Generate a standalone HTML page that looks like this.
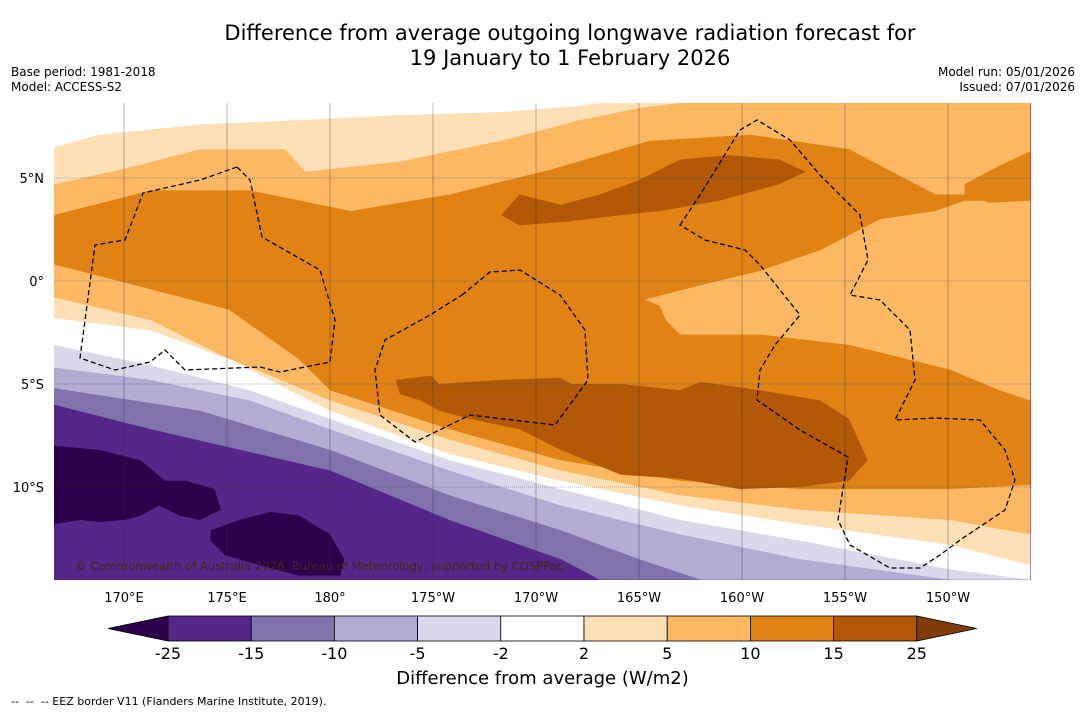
<!DOCTYPE html>
<html><head><meta charset="utf-8">
<style>
body{margin:0;background:#fff;font-family:"DejaVu Sans","Liberation Sans",sans-serif;}
#wrap{position:relative;width:1085px;height:713px;overflow:hidden;background:#fff;}
.t{position:absolute;color:#000;white-space:nowrap;}
</style></head>
<body>
<div id="wrap">
<div class="t" style="left:170px;width:800px;top:21px;text-align:center;font-size:21px;line-height:25px;">Difference from average outgoing longwave radiation forecast for<br>19 January to 1 February 2026</div>
<div class="t" style="left:11px;top:65px;font-size:12px;line-height:15px;">Base period: 1981-2018<br>Model: ACCESS-S2</div>
<div class="t" style="right:10px;top:65px;font-size:12px;line-height:15px;text-align:right;">Model run: 05/01/2026<br>Issued: 07/01/2026</div>
<div class="t" style="left:300px;width:485px;top:668px;text-align:center;font-size:18px;">Difference from average (W/m2)</div>
<div class="t" style="left:11px;top:695px;font-size:11px;">-- &nbsp;-- &nbsp;-- EEZ border V11 (Flanders Marine Institute, 2019).</div>
<svg id="svg" width="1085" height="713" style="position:absolute;left:0;top:0"></svg>
</div>
<script>
// ---- data ----
const levelTicks = ["-25","-15","-10","-5","-2","2","5","10","15","25"];
const levelColors = ["#542788","#8073ac","#b2abd2","#d8daeb","#ffffff","#fee0b6","#fdb863","#e08214","#b35806"];
const lonTicks = [170,175,180,185,190,195,200,205,210];
const lonLabels = ["170°E","175°E","180°","175°W","170°W","165°W","160°W","155°W","150°W"];
const latTicks = [5,0,-5,-10];
const latLabels = ["5°N","0°","5°S","10°S"];
// bottom-side contour boundaries (lon, lat), region above painted
const bnd8073ac = [[166.6,-6.0],[171.3,-7.2],[180,-9.2],[185.8,-11.6],[189.2,-12.8],[191.2,-13.5],[193.1,-14.5]];
const bndB2abd2 = [[166.6,-5.2],[173.7,-6.3],[180,-8.2],[185.8,-10.4],[191.2,-12.1],[195,-13.5],[198,-14.5]];
const bndD8daeb = [[166.6,-4.2],[171.3,-4.8],[176.1,-5.8],[180,-7.2],[185.8,-9.2],[191.2,-10.9],[197,-12.3],[202.8,-13.5],[210.1,-14.5]];
const bndWhite = [[166.6,-3.1],[171.3,-4.1],[176.1,-5.3],[180,-6.7],[185.8,-8.7],[191.2,-10.1],[197,-11.6],[202.8,-12.6],[210.1,-14.0],[214,-14.5]];
const bndFee0b6 = [[166.6,-1.8],[171.3,-2.4],[175.1,-3.8],[180,-6.3],[185.8,-8.4],[191.2,-9.7],[197,-10.9],[202.8,-11.8],[210.1,-12.8],[214,-13.8]];
const bndFdb863 = [[166.6,-0.8],[171.3,-1.9],[174.7,-3.6],[180,-5.8],[185.8,-7.7],[191.2,-9.2],[197,-10.4],[202.8,-11.1],[210.1,-11.6],[214,-12.3]];
const bndE08214 = [[166.6,0.8],[171.3,-0.4],[175.1,-1.4],[178.5,-3.8],[180,-5.3],[185.8,-7.2],[191.2,-8.7],[197,-9.7],[202.8,-10.1],[210.1,-10.1],[214,-9.9]];
// top-side boundaries, region above painted
const topFdb863 = [[166.6,3.2],[171.3,4.4],[176.1,4.4],[181,3.4],[185.8,4.2],[190.7,5.4],[195.5,6.8],[200.4,7.1],[205.2,6.4],[209.4,4.2],[210.8,4.2],[214,3.9]];
const topFee0b6 = [[166.6,4.7],[169.8,5.4],[173.7,6.4],[177.8,6.4],[178.8,5.3],[183.4,5.8],[188.3,6.8],[192.1,7.8],[195,8.4],[197,8.64]];
const topWhite = [[166.6,6.5],[168.8,7.1],[173.7,7.6],[178.5,7.8],[183.4,8.06],[188.3,8.2],[192.1,8.5],[193.1,8.64]];
// patches
const patchLightRight = [[195.3,-0.9],[198,-0.2],[200.9,0.5],[203.8,1.5],[206.7,3.0],[209.4,3.4],[210.8,3.9],[214,3.9],[214,-5.8],[212.5,-5.3],[210.1,-4.3],[205.2,-3.1],[200.9,-2.6],[197,-2.6],[196.3,-1.9],[196,-1.2]];
const patchOrangeTopRight = [[210.8,4.7],[212.5,5.6],[214,6.3],[214,3.9],[212,3.8],[210.8,4.2]];
const patchDarkTop = [[188.3,3.2],[189.2,4.2],[191.2,3.7],[193.1,4.2],[195,4.9],[197,5.9],[199.4,6.1],[201.8,5.9],[203.1,5.3],[201.8,4.7],[198.9,3.9],[196,3.4],[194.1,3.2],[191.7,2.9],[189.2,2.7]];
const patchDarkBottom = [[183.2,-4.8],[184.9,-4.6],[185.3,-5.0],[188.3,-4.8],[191.2,-4.7],[191.7,-5.0],[194.1,-5.0],[197,-5.3],[198,-4.9],[200.9,-5.3],[203.8,-5.8],[205.2,-6.7],[206.1,-8.7],[205.2,-9.7],[202.8,-10.0],[199.9,-10.1],[197,-9.6],[194.1,-9.4],[191.2,-8.2],[189.2,-7.2],[186.8,-6.7],[185.3,-6.3],[184.4,-5.8],[183.4,-5.5]];
const patchPurple1 = [[166.6,-8.0],[168.8,-8.2],[170.8,-8.7],[172,-9.7],[173,-9.7],[174.4,-10.1],[174.7,-11.1],[173.7,-11.6],[172.7,-11.4],[171.7,-10.9],[170.8,-11.4],[170,-11.6],[168.8,-11.7],[167.9,-11.6],[166.6,-11.8]];
const patchPurple2 = [[174.2,-12.1],[175.6,-11.6],[177.1,-11.2],[178.5,-11.4],[180,-12.3],[180.7,-13.5],[180.5,-14.3],[178.5,-14.3],[176.6,-13.8],[174.9,-13.3],[174.2,-12.6]];

// ---- axes ----
const MX0=54,MX1=1031,MY0=103,MY1=580;
const LON0=166.6,LON1=214,LAT0=8.64,LAT1=-14.5;
const xs = lon => 124 + (lon-170)*20.6;
const ys = lat => 281 - lat*20.6;
const FONT='DejaVu Sans, Liberation Sans, sans-serif';
const svg=document.getElementById('svg');
const NS="http://www.w3.org/2000/svg";
function mk(tag,attrs){const e=document.createElementNS(NS,tag);for(const k in attrs)e.setAttribute(k,attrs[k]);return e;}
function pts(a){return a.map(p=>xs(p[0]).toFixed(1)+","+ys(p[1]).toFixed(1)).join(" ");}

const clip=mk('clipPath',{id:'mc'});clip.appendChild(mk('rect',{x:MX0,y:MY0,width:MX1-MX0,height:MY1-MY0}));
const defs=mk('defs',{});defs.appendChild(clip);svg.appendChild(defs);
const g=mk('g',{'clip-path':'url(#mc)'});


svg.appendChild(g);

const base=mk('rect',{x:MX0,y:MY0,width:MX1-MX0,height:MY1-MY0,fill:'#542788'});


g.appendChild(base);

function above(arr,color,name,closeTopOnly){
  const extra = closeTopOnly ? [[LON0,LAT0]] : [[LON1,LAT1],[LON1,LAT0],[LON0,LAT0]];
  const e=mk('polygon',{points:pts(arr.concat(extra)),fill:color});
  
  
  g.appendChild(e);
}
function patch(arr,color,name){
  const e=mk('polygon',{points:pts(arr),fill:color});
  
  
  g.appendChild(e);
}
above(bnd8073ac,'#8073ac','contour-minus15-minus10');
above(bndB2abd2,'#b2abd2','contour-minus10-minus5');
above(bndD8daeb,'#d8daeb','contour-minus5-minus2');
above(bndWhite,'#ffffff','contour-minus2-2');
above(bndFee0b6,'#fee0b6','contour-2-5');
above(bndFdb863,'#fdb863','contour-5-10');
above(bndE08214,'#e08214','contour-10-15');
above(topFdb863,'#fdb863','contour-top-5-10');
above(topFee0b6,'#fee0b6','contour-top-2-5',true);
above(topWhite,'#ffffff','contour-top-neutral',true);
patch(patchLightRight,'#fdb863','contour-east-5-10');
patch(patchOrangeTopRight,'#e08214','contour-northeast-10-15');
patch(patchDarkTop,'#b35806','contour-north-15-25');
patch(patchDarkBottom,'#b35806','contour-south-15-25');
patch(patchPurple1,'#2d004b','contour-sw-lt-minus25');
patch(patchPurple2,'#2d004b','contour-s-lt-minus25');

// grid
lonTicks.forEach((lon,i)=>{
  const l=mk('line',{x1:xs(lon),x2:xs(lon),y1:MY0,y2:MY1,stroke:'#333','stroke-width':0.5,'stroke-opacity':0.7});
  
  
  g.appendChild(l);
  const t=mk('text',{x:xs(lon),y:602,'text-anchor':'middle','font-size':13,fill:'#000','font-family':FONT});
  t.textContent=lonLabels[i];
  
  
  svg.appendChild(t);
});
latTicks.forEach((lat,i)=>{
  const l=mk('line',{x1:MX0,x2:MX1,y1:ys(lat),y2:ys(lat),stroke:'#333','stroke-width':0.6,'stroke-opacity':0.7,'stroke-dasharray':'1,1'});
  
  
  g.appendChild(l);
  const t=mk('text',{x:44,y:ys(lat)+5,'text-anchor':'end','font-size':13,fill:'#000','font-family':FONT});
  t.textContent=latLabels[i];
  
  
  svg.appendChild(t);
});

// EEZ dashed borders
const eezPaths=[
"M237,167 L200,180 L143,193 L125,240 L95,245 L80,358 L115,370 L150,362 L165,350 L185,370 L260,367 L280,372 L330,362 L335,320 L320,270 L262,237 L250,180 Z",
"M462,295 L490,272 L520,270 L560,295 L585,330 L588,380 L555,425 L470,415 L415,442 L380,415 L375,370 L385,340 L430,315 Z",
"M680,225 L700,195 L740,130 L757,120 L790,140 L820,175 L860,215 L868,260 L850,295 L880,300 L910,330 L915,380 L895,420 L935,418 L980,420 L1005,450 L1015,480 L1005,510 L960,540 L940,555 L920,568 L890,568 L850,545 L838,520 L848,457 L800,430 L757,400 L760,370 L775,345 L800,315 L760,265 L745,250 L705,240 Z"];
eezPaths.forEach(d=>{
  const p=mk('path',{d:d,fill:'none',stroke:'#000','stroke-width':1.3,'stroke-dasharray':'5,3'});
  
  
  g.appendChild(p);
});
const cr=mk('text',{x:75,y:570,'font-size':11.6,fill:'#3a2a1a','font-family':FONT});
cr.textContent='© Commonwealth of Australia 2026, Bureau of Meteorology, supported by COSPPac';


svg.appendChild(cr);

// colorbar
const CB0=168,CBW=83.2,CBY=616,CBH=25;
const lt=mk('polygon',{points:`108,${CBY+CBH/2} ${CB0},${CBY} ${CB0},${CBY+CBH}`,fill:'#2d004b',stroke:'#000','stroke-width':0.8});


svg.appendChild(lt);
levelColors.forEach((c,i)=>{
  const r=mk('rect',{x:CB0+i*CBW,y:CBY,width:CBW,height:CBH,fill:c,stroke:'#000','stroke-width':0.8});
  
  
  svg.appendChild(r);
});
const rx=CB0+levelColors.length*CBW;
const rt=mk('polygon',{points:`${rx},${CBY} ${rx+60},${CBY+CBH/2} ${rx},${CBY+CBH}`,fill:'#7f3b08',stroke:'#000','stroke-width':0.8});


svg.appendChild(rt);
levelTicks.forEach((lab,i)=>{
  const t=mk('text',{x:CB0+i*CBW,y:659,'text-anchor':'middle','font-size':16,fill:'#000','font-family':FONT});
  t.textContent=lab;
  
  
  svg.appendChild(t);
});
</script>
</body></html>
